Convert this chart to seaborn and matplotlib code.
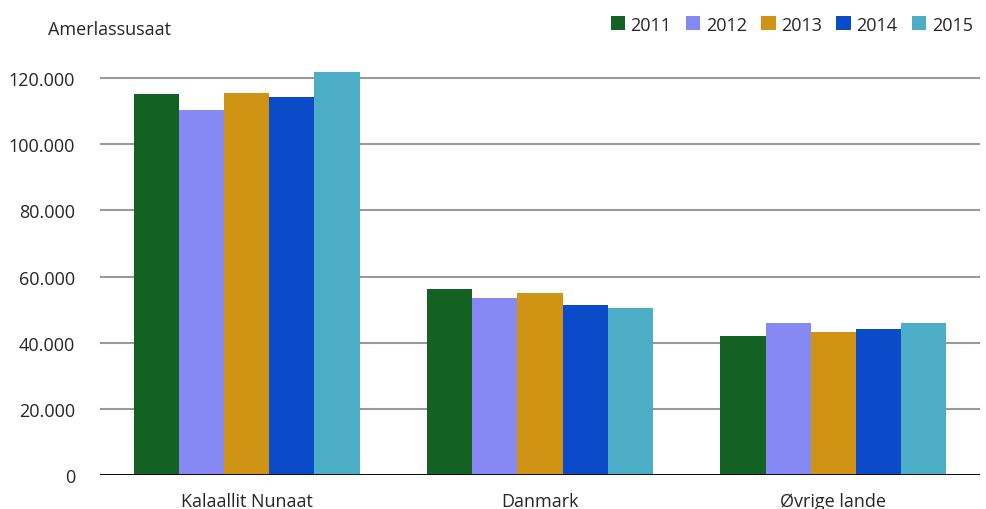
import matplotlib
matplotlib.use("Agg")
import matplotlib.pyplot as plt
from matplotlib.ticker import FuncFormatter
import pandas as pd
import seaborn as sns

categories = ["Kalaallit Nunaat", "Danmark", "Øvrige lande"]
years = ["2011", "2012", "2013", "2014", "2015"]
values = {
    "2011": [115200, 56200, 41900],
    "2012": [110300, 53500, 45900],
    "2013": [115600, 55000, 43200],
    "2014": [114200, 51300, 44100],
    "2015": [121800, 50500, 46000],
}
colors = ["#136223", "#8689F4", "#D09414", "#0B4BCA", "#4BADC6"]

rows = []
for y in years:
    for c, v in zip(categories, values[y]):
        rows.append({"land": c, "aar": y, "val": v})
df = pd.DataFrame(rows)

sns.set_style("white")
plt.rcParams["font.family"] = ["Open Sans", "DejaVu Sans"]

fig = plt.figure(figsize=(9.87, 5.10), dpi=100)
ax = fig.add_axes([100 / 987, 34 / 510, 880 / 987, 1 - 34 / 510 - 46 / 510])

sns.barplot(data=df, x="land", y="val", hue="aar", hue_order=years,
            palette=colors, width=0.77, saturation=1, linewidth=0,
            ax=ax, zorder=3)

ax.set_ylim(0, 130000)
ax.set_xlim(-0.5, 2.5)
ax.set_yticks(range(0, 130000, 20000))
ax.yaxis.set_major_formatter(FuncFormatter(lambda v, p: f"{int(v):,}".replace(",", ".")))
ax.grid(axis="y", color="#999999", linewidth=1.5, zorder=0)
ax.axhline(0, color="black", linewidth=2, zorder=4)
for s in ax.spines.values():
    s.set_visible(False)
ax.tick_params(axis="y", length=0, pad=18, labelsize=13)
ax.tick_params(axis="x", length=0, pad=12, labelsize=13)
ax.set_xlabel("")
ax.set_ylabel("")

fig.text(48 / 987, 1 - 30 / 510, "Amerlassusaat", fontsize=13, va="center", ha="left")

ax.legend(loc="upper right", bbox_to_anchor=(1.0, 1.085), ncol=5, frameon=False,
          fontsize=13, handlelength=0.8, handleheight=0.8, handletextpad=0.3,
          columnspacing=0.8, borderaxespad=0)

fig.savefig("out.png", dpi=100)
